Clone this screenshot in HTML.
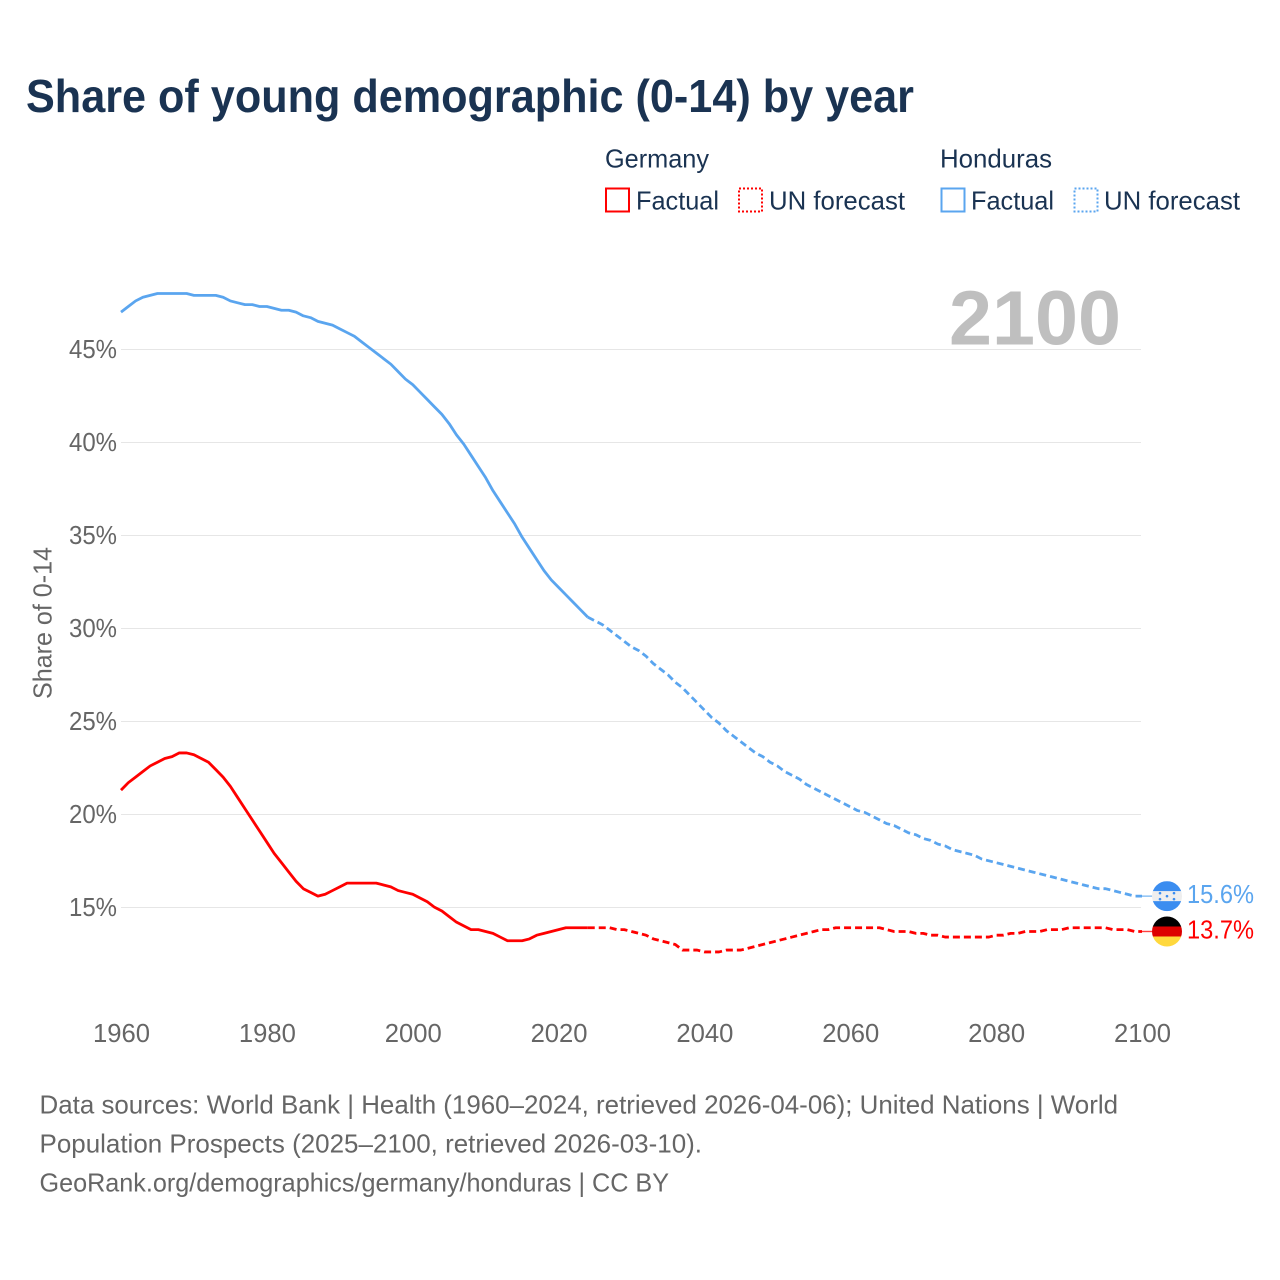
<!DOCTYPE html>
<html lang="en">
<head>
<meta charset="utf-8">
<title>Share of young demographic (0-14) by year</title>
<style>
html,body{margin:0;padding:0;background:#fff;}
svg{display:block;font-family:"Liberation Sans",sans-serif;}
</style>
</head>
<body>
<svg id="chart" width="1280" height="1280" viewBox="0 0 1280 1280" xmlns="http://www.w3.org/2000/svg">
  <defs>
    <clipPath id="clip-hn"><circle cx="0" cy="0" r="15"/></clipPath>
  </defs>
  <text x="26" y="112" font-size="46" font-weight="700" fill="#1a3352" textLength="888" lengthAdjust="spacingAndGlyphs">Share of young demographic (0-14) by year</text>

  <g font-size="26" fill="#1a3352">
    <text x="605" y="167.5" textLength="104" lengthAdjust="spacingAndGlyphs">Germany</text>
    <rect x="606" y="188.5" width="23" height="23" fill="none" stroke="#ff0000" stroke-width="2"/>
    <text x="636" y="209.5" textLength="83" lengthAdjust="spacingAndGlyphs">Factual</text>
    <rect x="739" y="188.5" width="23" height="23" fill="none" stroke="#ff0000" stroke-width="2" stroke-dasharray="2 2"/>
    <text x="769" y="209.5" textLength="136" lengthAdjust="spacingAndGlyphs">UN forecast</text>
    <text x="940" y="167.5" textLength="112" lengthAdjust="spacingAndGlyphs">Honduras</text>
    <rect x="941.5" y="188.5" width="23" height="23" fill="none" stroke="#5aa5ef" stroke-width="2"/>
    <text x="971" y="209.5" textLength="83" lengthAdjust="spacingAndGlyphs">Factual</text>
    <rect x="1074.5" y="188.5" width="23" height="23" fill="none" stroke="#5aa5ef" stroke-width="2" stroke-dasharray="2 2"/>
    <text x="1104" y="209.5" textLength="136" lengthAdjust="spacingAndGlyphs">UN forecast</text>
  </g>

  <g id="grid"></g>
  <text x="949" y="344.5" font-size="77" font-weight="700" fill="#bfbfbf" textLength="172" lengthAdjust="spacingAndGlyphs">2100</text>
  <g id="y-labels" font-size="26" fill="#666666"></g>
  <g id="x-labels" font-size="26" fill="#666666"></g>
  <text transform="translate(51.5,699) rotate(-90)" font-size="26" fill="#666666" textLength="152" lengthAdjust="spacingAndGlyphs">Share of 0-14</text>
  <g id="series"></g>

  <g font-size="26" fill="#666666">
    <text x="39.5" y="1113.5" textLength="1078.5" lengthAdjust="spacingAndGlyphs">Data sources: World Bank | Health (1960–2024, retrieved 2026-04-06); United Nations | World</text>
    <text x="39.5" y="1152.5" textLength="662.5" lengthAdjust="spacingAndGlyphs">Population Prospects (2025–2100, retrieved 2026-03-10).</text>
    <text x="39.5" y="1191.5" textLength="629.5" lengthAdjust="spacingAndGlyphs">GeoRank.org/demographics/germany/honduras | CC BY</text>
  </g>
</svg>

<script>
const xTickYears = [1960, 1980, 2000, 2020, 2040, 2060, 2080, 2100];
const yTickValues = [15, 20, 25, 30, 35, 40, 45];
const factualStartYear = 1960;
const forecastStartYear = 2024;

const germanyFactual = [21.3,21.7,22.0,22.3,22.6,22.8,23.0,23.1,23.3,23.3,23.2,23.0,22.8,22.4,22.0,21.5,20.9,20.3,19.7,19.1,18.5,17.9,17.4,16.9,16.4,16.0,15.8,15.6,15.7,15.9,16.1,16.3,16.3,16.3,16.3,16.3,16.2,16.1,15.9,15.8,15.7,15.5,15.3,15.0,14.8,14.5,14.2,14.0,13.8,13.8,13.7,13.6,13.4,13.2,13.2,13.2,13.3,13.5,13.6,13.7,13.8,13.9,13.9,13.9,13.9];
const germanyForecast = [13.9,13.9,13.9,13.9,13.8,13.8,13.7,13.6,13.5,13.3,13.2,13.1,13.0,12.7,12.7,12.7,12.6,12.6,12.6,12.7,12.7,12.7,12.8,12.9,13.0,13.1,13.2,13.3,13.4,13.5,13.6,13.7,13.8,13.8,13.9,13.9,13.9,13.9,13.9,13.9,13.9,13.8,13.7,13.7,13.7,13.6,13.6,13.5,13.5,13.4,13.4,13.4,13.4,13.4,13.4,13.4,13.5,13.5,13.6,13.6,13.7,13.7,13.7,13.8,13.8,13.8,13.9,13.9,13.9,13.9,13.9,13.9,13.8,13.8,13.8,13.7,13.7];
const hondurasFactual = [47.0,47.3,47.6,47.8,47.9,48.0,48.0,48.0,48.0,48.0,47.9,47.9,47.9,47.9,47.8,47.6,47.5,47.4,47.4,47.3,47.3,47.2,47.1,47.1,47.0,46.8,46.7,46.5,46.4,46.3,46.1,45.9,45.7,45.4,45.1,44.8,44.5,44.2,43.8,43.4,43.1,42.7,42.3,41.9,41.5,41.0,40.4,39.9,39.3,38.7,38.1,37.4,36.8,36.2,35.6,34.9,34.3,33.7,33.1,32.6,32.2,31.8,31.4,31.0,30.6];
const hondurasForecast = [30.6,30.4,30.2,29.9,29.6,29.3,29.0,28.8,28.5,28.1,27.8,27.5,27.1,26.8,26.4,26.0,25.6,25.2,24.9,24.5,24.2,23.9,23.6,23.3,23.1,22.8,22.6,22.3,22.1,21.9,21.6,21.4,21.2,21.0,20.8,20.6,20.4,20.2,20.1,19.9,19.7,19.5,19.4,19.2,19.0,18.9,18.7,18.6,18.4,18.3,18.1,18.0,17.9,17.8,17.6,17.5,17.4,17.3,17.2,17.1,17.0,16.9,16.8,16.7,16.6,16.5,16.4,16.3,16.2,16.1,16.0,16.0,15.9,15.8,15.7,15.6,15.6];

const SVG_NS = 'http://www.w3.org/2000/svg';
const RED = '#ff0000';
const BLUE = '#5aa5ef';
function xScale(year) { return 121 + (year - 1960) * (1021 / 140); }
function yScale(value) { return 907.3 - (value - 15) * 18.6; }
function make(tag, parent) {
  const el = document.createElementNS(SVG_NS, tag);
  parent.appendChild(el);
  return el;
}
function linePath(values, startYear) {
  return values.map(function (v, i) {
    return (i ? 'L' : 'M') + xScale(startYear + i).toFixed(2) + ' ' + yScale(v).toFixed(2);
  }).join(' ');
}

const grid = document.getElementById('grid');
const yLabels = document.getElementById('y-labels');
yTickValues.forEach(function (v) {
  const line = make('line', grid);
  
  
  line.setAttribute('x1', 121);
  line.setAttribute('x2', 1141);
  line.setAttribute('y1', Math.round(yScale(v)) + 0.5);
  line.setAttribute('y2', Math.round(yScale(v)) + 0.5);
  line.setAttribute('stroke', '#e6e6e6');
  line.setAttribute('stroke-width', '1');
  const label = make('text', yLabels);
  
  
  label.setAttribute('x', 69);
  label.setAttribute('y', yScale(v) + 8.7);
  label.setAttribute('textLength', 48);
  label.setAttribute('lengthAdjust', 'spacingAndGlyphs');
  label.textContent = v + '%';
});

const xLabels = document.getElementById('x-labels');
xTickYears.forEach(function (y) {
  const label = make('text', xLabels);
  
  
  label.setAttribute('x', xScale(y) - 28);
  label.setAttribute('y', 1042);
  label.setAttribute('textLength', 57);
  label.setAttribute('lengthAdjust', 'spacingAndGlyphs');
  label.textContent = y;
});

const seriesGroup = document.getElementById('series');
function drawLine(values, startYear, color, dashed, name) {
  const path = make('path', seriesGroup);
  
  
  path.setAttribute('d', linePath(values, startYear));
  path.setAttribute('fill', 'none');
  path.setAttribute('stroke', color);
  path.setAttribute('stroke-width', '2.8');
  path.setAttribute('stroke-linejoin', 'round');
  if (dashed) path.setAttribute('stroke-dasharray', '7 4');
}
drawLine(germanyFactual, factualStartYear, RED, false, 'germany-factual-line');
drawLine(germanyForecast, forecastStartYear, RED, true, 'germany-forecast-line');
drawLine(hondurasFactual, factualStartYear, BLUE, false, 'honduras-factual-line');
drawLine(hondurasForecast, forecastStartYear, BLUE, true, 'honduras-forecast-line');

function drawEnd(values, color, key) {
  const last = values[values.length - 1];
  const px = xScale(2100);
  const py = yScale(last);
  const connector = make('line', seriesGroup);
  
  
  connector.setAttribute('x1', px);
  connector.setAttribute('x2', px + 12);
  connector.setAttribute('y1', py);
  connector.setAttribute('y2', py);
  connector.setAttribute('stroke', color);
  connector.setAttribute('stroke-width', '1.4');
  connector.setAttribute('stroke-opacity', '0.75');

  const flag = make('g', seriesGroup);
  
  
  flag.setAttribute('transform', 'translate(' + (px + 25) + ',' + py + ')');
  const inner = make('g', flag);
  inner.setAttribute('clip-path', 'url(#clip-hn)');
  const bandColors = key === 'germany' ? ['#000000', '#dd0000', '#ffd83d'] : ['#3b8df0', '#eeeeee', '#3b8df0'];
  bandColors.forEach(function (c, i) {
    const band = make('rect', inner);
    band.setAttribute('x', -15);
    band.setAttribute('y', -15 + i * 10);
    band.setAttribute('width', 30);
    band.setAttribute('height', 10.2);
    band.setAttribute('fill', c);
  });
  if (key === 'honduras') {
    [[-7, -3], [7, -3], [0, 0], [-7, 3], [7, 3]].forEach(function (p) {
      const star = make('circle', inner);
      star.setAttribute('cx', p[0]);
      star.setAttribute('cy', p[1]);
      star.setAttribute('r', 1.3);
      star.setAttribute('fill', '#3b8df0');
    });
  }

  const label = make('text', seriesGroup);
  
  
  label.setAttribute('x', px + 45);
  label.setAttribute('y', py + 7);
  label.setAttribute('font-size', '26');
  label.setAttribute('fill', color);
  label.setAttribute('textLength', 67);
  label.setAttribute('lengthAdjust', 'spacingAndGlyphs');
  label.textContent = last.toFixed(1) + '%';
}
drawEnd(hondurasForecast, BLUE, 'honduras');
drawEnd(germanyForecast, RED, 'germany');
</script>
</body>
</html>
